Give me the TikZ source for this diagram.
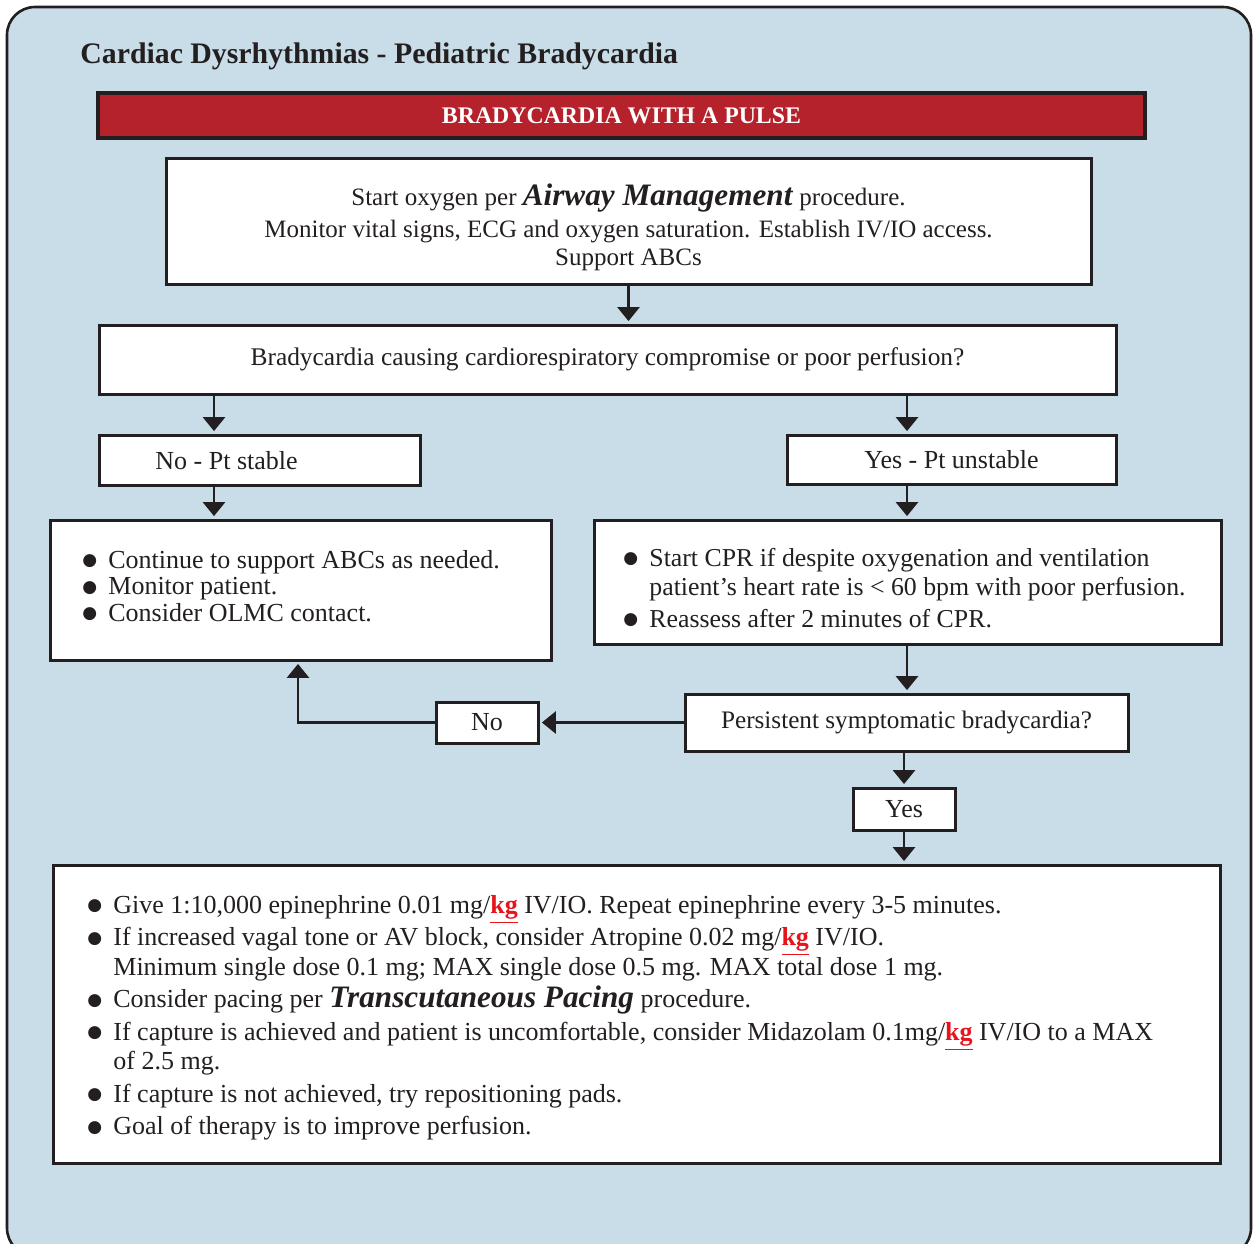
\documentclass[tikz,border=0pt]{standalone}
\usepackage{fontspec}
\setmainfont{Liberation Serif}
\newfontfamily\symfont{DejaVu Sans}
\usetikzlibrary{arrows.meta}

\definecolor{panel}{HTML}{C9DDE8}
\definecolor{barred}{HTML}{B5222B}
\definecolor{ink}{HTML}{231F20}
\definecolor{kgred}{HTML}{E8141B}

% bullet line and continuation line
\newcommand\dotmark{\raisebox{1.4pt}{\symfont\fontsize{8.5}{0}\selectfont ●}}
\newcommand\bitem[1]{\makebox[13pt][l]{\dotmark}#1}
\newcommand\bcont[1]{\makebox[13pt]{}#1}
\newcommand\kg{\textcolor{kgred}{\textbf{\underline{kg}}}}
\newcommand\proc[1]{\textbf{\textit{\fontsize{15.6}{15}\selectfont #1}}}

\tikzset{
  box/.style={draw=ink, line width=1.5pt, fill=white, inner sep=0pt},
  flow/.style={draw=ink, line width=1.4pt, shorten >=1.2pt, -{Triangle[width=11pt,length=7pt]}},
  txt/.style={inner sep=0pt, text=ink, align=left},
  body/.style={font=\fontsize{13}{15}\selectfont},
}

\begin{document}
\begin{tikzpicture}[x=0.5pt, y=-0.5pt]
\useasboundingbox (0,0) rectangle (1253,1243);

% panel
\begin{scope}
  \clip (0,0) rectangle (1253,1243);
  \draw[draw=ink, line width=1.3pt, fill=panel, rounded corners=14pt] (7,7) rectangle (1251,1256);
\end{scope}

% heading
\node[txt, anchor=west, font=\bfseries\fontsize{14.9}{17}\selectfont] (title) at (80,56)
  {Cardiac Dysrhythmias - Pediatric Bradycardia};

\node[draw=ink, line width=1.6pt, fill=barred, inner sep=0pt, minimum width=523.5pt, minimum height=22.5pt,
      text=white, font=\bfseries\fontsize{11.9}{13}\selectfont] (bar) at (621.5,115.5) {BRADYCARDIA WITH A PULSE};

% boxes
\node[box, minimum width=462.5pt, minimum height=63pt] (start) at (628.5,221) {};
\node[txt, align=center, font=\fontsize{12.5}{14}\selectfont] (starttxt) at (628.5,227)
  {Start oxygen per \proc{Airway Management} procedure.\\[2pt]
   Monitor vital signs, ECG and oxygen saturation. Establish IV/IO access.\\
   Support ABCs};

\node[box, minimum width=508.5pt, minimum height=34.5pt, text=ink, font=\fontsize{12.7}{15}\selectfont] (q1) at (607.5,359.5)
  {Bradycardia causing cardiorespiratory compromise or poor perfusion?};

\node[box, minimum width=160.5pt, minimum height=25pt] (stable) at (259.5,460) {};
\node[txt, anchor=west, body] (stabletxt) at (155,461) {No - Pt stable};

\node[box, minimum width=164.5pt, minimum height=24.5pt, text=ink, body] (unstable) at (951.5,459.5) {Yes - Pt unstable};

\node[box, minimum width=250.5pt, minimum height=70pt] (support) at (300.5,590) {};
\node[txt, anchor=west, font=\fontsize{13}{13.25}\selectfont] (supporttxt) at (82,586)
  {\bitem{Continue to support ABCs as needed.}\\
   \bitem{Monitor patient.}\\
   \bitem{Consider OLMC contact.}};

\node[box, minimum width=313.5pt, minimum height=62pt] (cpr) at (907.5,582) {};
\node[txt, anchor=west, font=\fontsize{12.9}{14.5}\selectfont] (cprtxt) at (623,588)
  {\bitem{Start CPR if despite oxygenation and ventilation}\\
   \bcont{patient’s heart rate is < 60 bpm with poor perfusion.}\\[1.5pt]
   \bitem{Reassess after 2 minutes of CPR.}};

\node[box, minimum width=221.5pt, minimum height=28.5pt, text=ink, font=\fontsize{12.6}{15}\selectfont] (persist) at (906.5,722.5)
  {Persistent symptomatic bradycardia?};

\node[box, minimum width=51pt, minimum height=20.5pt, text=ink, body] (no) at (487,722.5) {No};
\node[box, minimum width=51pt, minimum height=21pt, text=ink, body] (yes) at (904,809) {Yes};

\node[box, minimum width=583.5pt, minimum height=149pt] (therapy) at (636.5,1014) {};
\node[txt, anchor=west, font=\fontsize{13}{14.75}\selectfont] (therapytxt) at (87,1018)
  {\bitem{Give 1:10,000 epinephrine 0.01 mg/\kg{} IV/IO. Repeat epinephrine every 3-5 minutes.}\\[1.5pt]
   \bitem{If increased vagal tone or AV block, consider Atropine 0.02 mg/\kg{} IV/IO.}\\
   \bcont{Minimum single dose 0.1 mg; MAX single dose 0.5 mg. MAX total dose 1 mg.}\\[1.5pt]
   \bitem{Consider pacing per \proc{Transcutaneous Pacing} procedure.}\\[1.5pt]
   \bitem{If capture is achieved and patient is uncomfortable, consider Midazolam 0.1mg/\kg{} IV/IO to a MAX}\\
   \bcont{of 2.5 mg.}\\[1.5pt]
   \bitem{If capture is not achieved, try repositioning pads.}\\[1.5pt]
   \bitem{Goal of therapy is to improve perfusion.}};

% connector columns
\coordinate (lx) at (214,0);
\coordinate (rx) at (907,0);
\coordinate (ux) at (298,0);

% connectors
\draw[flow] (start.south) -- (start.south |- q1.north);
\draw[flow] (q1.south -| lx) -- (stable.north -| lx);
\draw[flow] (q1.south -| rx) -- (unstable.north -| rx);
\draw[flow] (stable.south -| lx) -- (support.north -| lx);
\draw[flow] (unstable.south -| rx) -- (cpr.north -| rx);
\draw[flow] (cpr.south -| rx) -- (persist.north -| rx);
\draw[flow] (persist.west) -- (no.east);
\draw[flow] (no.west) -| (ux |- support.south);
\draw[flow] (persist.south -| yes.north) -- (yes.north);
\draw[flow] (yes.south) -- (yes.south |- therapy.north);
\end{tikzpicture}
\end{document}
